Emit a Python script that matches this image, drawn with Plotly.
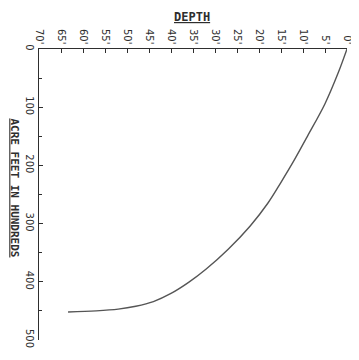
import plotly.graph_objects as go

# Curve (depth in feet, acre feet in hundreds)
depth_ft = [0, 2, 5, 9, 12, 15, 18, 22, 27, 32, 36, 40, 44, 48, 52, 57, 63.4]
acre_feet_hundreds = [0, 41, 94, 150, 191, 229, 265, 304, 344, 378, 401, 420, 434, 442, 447, 450, 452]

depth_ticks = [70, 65, 60, 55, 50, 45, 40, 35, 30, 25, 20, 15, 10, 5, 0]
depth_tick_labels = ["70'", "65'", "60'", "55'", "50'", "45'", "40'", "35'", "30'",
                     "25'", "20'", "15'", "10'", "5'", "0'"]
acre_ticks = [0, 100, 200, 300, 400, 500]
acre_tick_labels = ["0", "100", "200", "300", "400", "500"]

ink = "#2e2e2e"
tick_font = dict(family="DejaVu Sans", size=10, color=ink)

fig = go.Figure()
fig.add_trace(go.Scatter(
    x=depth_ft, y=acre_feet_hundreds, mode="lines",
    line=dict(color="#555555", width=1.4, shape="spline", smoothing=1.0),
    hoverinfo="skip", showlegend=False,
))

# The page body adds an 8 px margin, so the figure is sized to fit the window.
fig.update_layout(
    width=351, height=352,
    margin=dict(l=31, r=12, t=40.5, b=20),
    paper_bgcolor="white", plot_bgcolor="white",
    showlegend=False,
    xaxis=dict(
        side="top", range=[70, 0], tickvals=depth_ticks, ticktext=depth_tick_labels,
        tickangle=90, tickfont=tick_font, ticks="inside", ticklen=4, tickcolor=ink,
        showline=True, linecolor=ink, linewidth=1.2, showgrid=False, zeroline=False,
        fixedrange=True, automargin=False,
    ),
    yaxis=dict(
        range=[500, 0], tickvals=acre_ticks, ticktext=acre_tick_labels,
        tickangle=90, tickfont=tick_font, ticks="inside", ticklen=4, tickcolor=ink,
        minor=dict(dtick=50, tick0=0, ticks="inside", ticklen=3, tickcolor=ink),
        showline=True, linecolor=ink, linewidth=1.2, showgrid=False, zeroline=False,
        fixedrange=True, automargin=False,
    ),
    annotations=[
        dict(text="<u>DEPTH</u>", xref="paper", yref="paper", x=0.497, y=1.111,
             xanchor="center", yanchor="middle", showarrow=False,
             font=dict(family="DejaVu Sans Mono", size=12, color=ink, weight="bold")),
        dict(text="<u>ACRE FEET IN HUNDREDS</u>", xref="paper", yref="paper",
             x=-0.078, y=0.521, xanchor="center", yanchor="middle", textangle=90,
             showarrow=False, font=dict(family="DejaVu Sans Mono", size=11, color=ink, weight="bold")),
    ],
)

fig.write_html("out.html")
